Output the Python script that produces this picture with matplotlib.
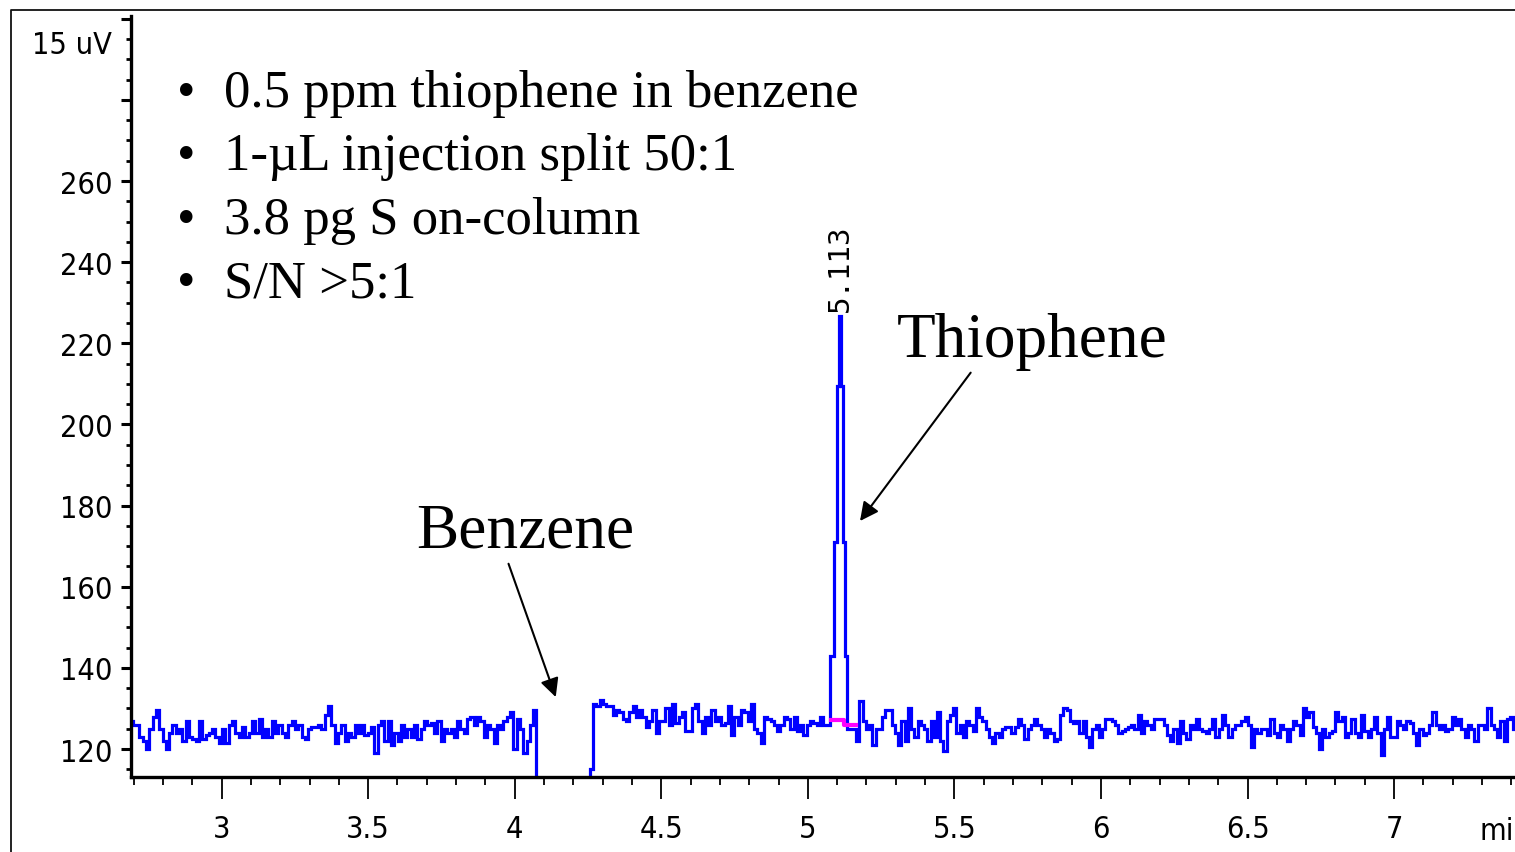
import numpy as np
import matplotlib
matplotlib.use("Agg")
import matplotlib.pyplot as plt
from matplotlib.lines import Line2D
from matplotlib.ticker import MultipleLocator, FuncFormatter
from matplotlib import font_manager

# ---- data ----
# baseline before the benzene solvent dip, 2.68 - 4.07 min
pre_t = (2.680, 4.069)
pre_v = [125, 127, 126, 126, 123, 122, 120, 125, 128, 129.5, 125, 122, 120, 124, 126, 124,
         125, 122, 127, 123, 122.5, 122, 127, 122.5, 123.5, 124, 125, 123, 121.5, 125, 121.5,
         126, 127, 124, 123, 125.5, 123, 124, 127, 124, 127.5, 123, 125, 123, 127, 124, 126,
         124, 123, 126, 127, 125, 126, 123, 122.5, 125, 125.5, 125.5, 126, 125, 128.5, 130.5,
         126, 121.5, 124, 126, 122, 124, 123, 126,
         124, 126, 123.5, 124, 125.5, 119, 126, 127, 122, 127, 121, 124, 122, 126, 123, 125,
         123, 126, 122.5, 125, 127, 126, 126.5, 124, 127, 122, 125, 124, 125, 123, 127, 125,
         124, 127.5, 128, 126, 128, 127, 123, 126, 125, 121.5, 126, 125, 127, 128, 129, 120,
         127.5, 125, 119, 122, 126, 129.5]

# solvent (benzene) dip, signal goes off scale
dip_t = [4.075, 4.255, 4.262]
dip_v = [100, 100, 115]

# baseline between benzene and thiophene, 4.27 - 5.07 min
mid_t = (4.273, 5.069)
mid_v = [131, 130.5, 132, 131, 130.5, 130.5, 128.5, 129.5, 129, 127.5, 127, 129, 130.5, 128,
         129.5, 128, 125.5, 127, 129.5, 124, 127, 127, 130, 126, 131, 126.5, 128, 129, 124.5,
         124.5, 130, 131, 127, 124, 128, 126, 129.5, 127, 128, 126, 126.5, 130.5, 123.5, 128,
         126, 129.5, 129, 127, 131, 125, 124, 121.5, 128, 127.5, 127, 126, 124.5, 126, 128,
         127.5, 125, 128, 124.5, 126, 123.5, 126, 127, 126.5, 126, 128, 126, 126]

# thiophene peak
peak_t = [5.0839, 5.0924, 5.1037, 5.1095, 5.1139, 5.1231, 5.1334]
peak_v = [143, 171, 209.5, 226.7, 209.5, 171, 143]

# baseline after thiophene, 5.14 - 7.41 min
post_t = (5.137, 7.412)
post_v = [125, 125, 125, 122, 131.8, 127, 125, 126, 121, 125, 125, 128, 129.5, 129.5, 126, 124,
          121, 127, 122, 130, 125, 123, 127, 126, 125, 122, 127, 123, 129, 122, 119.5, 127,
          128.5, 130, 124, 126, 123, 127, 126, 124.5, 130, 128, 127, 125, 123, 121.5, 124, 123,
          125, 125.5, 125.5, 124, 125.5, 127.5, 126, 122.5, 125, 126, 127.5, 126, 125, 123,
          125, 124, 122,
          122.5, 128.5, 130, 129.5, 127, 126.5, 127, 124, 127, 123, 120.5, 125, 126, 123, 125,
          127.5, 127.5, 127, 126, 124, 124.5, 125, 125.5, 126, 125, 128.5, 124, 127, 126, 125,
          127.5, 127.5, 127.5, 126, 123.5, 122, 125, 121.5, 127, 124, 122.5, 126, 125, 127.5,
          125, 124.5, 124, 125, 127.5, 123, 125, 128.5, 126, 123, 125, 126, 126, 127, 128, 126,
          120.5, 125, 124, 125, 125, 123.5, 127.5, 124, 123, 126,
          125, 122, 125, 127, 126, 123.5, 130, 128, 129, 125.5, 124, 120, 125, 123, 124, 124.5,
          129, 127, 128, 123, 124, 127.5, 124, 123, 128.5, 124.5, 123, 125, 128, 124, 118.5,
          125, 128, 123, 123, 127, 126, 125, 127, 126.5, 124, 121, 125, 123.5, 124, 126, 129,
          126, 125, 126, 124.5, 125, 128, 126, 127.5, 125, 123, 126, 125, 122, 126, 126, 125,
          130, 126, 125, 123, 127, 122, 127.5, 128, 125]

# integration baseline under the peak
integ_t = [5.0788, 5.1231, 5.1641]
integ_v = [127.1, 126.0, 126.0]

peak_rt = "5.113"
notes = ["0.5 ppm thiophene in benzene", "1-\u00b5L injection split 50:1",
         "3.8 pg S on-column", "S/N >5:1"]

W, H = 1515, 853
blue = "#0000ff"
serif = ["Liberation Serif", "DejaVu Serif"]

# narrow font for the instrument axis labels
tick_fp = font_manager.FontProperties(family="DejaVu Sans", stretch="condensed", size=22)

t = np.concatenate([np.linspace(*pre_t, len(pre_v)), dip_t,
                    np.linspace(*mid_t, len(mid_v)), peak_t,
                    np.linspace(*post_t, len(post_v))])
v = np.concatenate([pre_v, dip_v, mid_v, peak_v, post_v])

fig = plt.figure(figsize=(W / 100, H / 100), dpi=100)
ax = fig.add_axes([131 / W, 75 / H, (W - 131) / W, 761.3 / H])

ax.plot(t, v, color=blue, lw=2.3, drawstyle="steps-mid", solid_joinstyle="miter")
ax.plot(integ_t, integ_v, color="#ff00ff", lw=3, drawstyle="steps-post", zorder=3)

ax.set_xlim(2.691, 7.4125)
ax.set_ylim(113.1, 300.75)

for s in ["top", "right"]:
    ax.spines[s].set_visible(False)
for s in ["left", "bottom"]:
    ax.spines[s].set_linewidth(2.4)

ax.xaxis.set_major_locator(MultipleLocator(0.5))
ax.xaxis.set_minor_locator(MultipleLocator(0.1))
ax.xaxis.set_major_formatter(FuncFormatter(lambda x, p: f"{x:g}"))
ax.yaxis.set_major_locator(MultipleLocator(20))
ax.yaxis.set_minor_locator(MultipleLocator(5))
ax.yaxis.set_major_formatter(FuncFormatter(lambda y, p: f"{y:.0f}" if y <= 260 else ""))

ax.tick_params(axis="x", which="major", direction="out", length=15.6, width=1.3, pad=11)
ax.tick_params(axis="x", which="minor", direction="out", length=5.8, width=1.3)
ax.tick_params(axis="y", which="major", direction="out", length=7.2, width=2.2, pad=6)
ax.tick_params(axis="y", which="minor", direction="out", length=3.8, width=2.0)
for lab in ax.get_xticklabels() + ax.get_yticklabels():
    lab.set_fontproperties(tick_fp)

fig.text(112 / W, 1 - 45 / H, "15 uV", ha="right", va="center", fontproperties=tick_fp)
fig.text(1514 / W, 1 - 832 / H, "mi", ha="right", va="center", fontproperties=tick_fp)

# retention time label above the peak
ax.text(5.1095, 228.0, peak_rt, rotation=90, ha="center", va="bottom",
        family="DejaVu Sans Mono", fontsize=21)

# bullet notes
for i, note in enumerate(notes):
    yb = 1 - (106.7 + i * 63.5) / H
    fig.text(177 / W, yb, "\u2022", family=serif, fontsize=38, va="baseline")
    fig.text(224 / W, yb, note, family=serif, fontsize=38, va="baseline")

ax.annotate("Thiophene", xy=(5.178, 176.2), xytext=(5.304, 216.9), family=serif,
            fontsize=45.5, va="baseline", ha="left",
            arrowprops=dict(arrowstyle="-|>", color="black", lw=1.5, mutation_scale=28,
                            shrinkA=0, shrinkB=0, relpos=(0.28, 0)))
ax.annotate("Benzene", xy=(4.140, 132.8), xytext=(3.663, 169.8), family=serif,
            fontsize=45.5, va="baseline", ha="left",
            arrowprops=dict(arrowstyle="-|>", color="black", lw=1.5, mutation_scale=28,
                            shrinkA=0, shrinkB=0, relpos=(0.42, 0)))

# outer frame of the screenshot
fig.add_artist(Line2D([11 / W, 11 / W, 1.2], [-0.1, 1 - 11 / H, 1 - 11 / H],
                      transform=fig.transFigure, color="#111111", lw=1.3))

fig.savefig("out.png", dpi=100)
